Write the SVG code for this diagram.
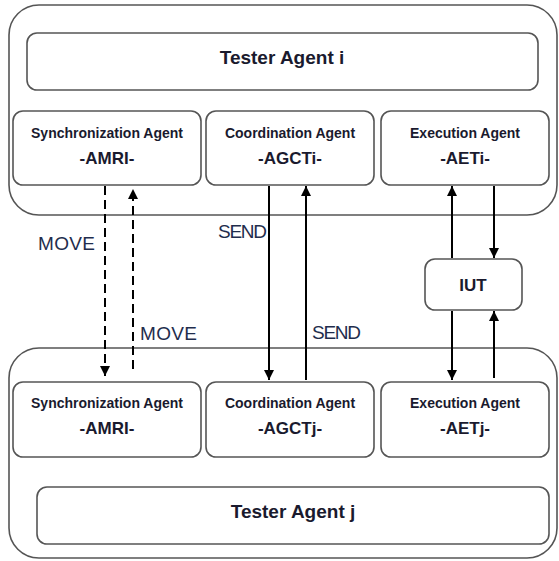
<svg xmlns="http://www.w3.org/2000/svg" width="559" height="561" viewBox="0 0 559 561">
<style>
.outer{fill:#fff;stroke:#555;stroke-width:1.6}
.box{fill:#fff;stroke:#555;stroke-width:1.6}
.t1{font-family:"Liberation Sans",Arial,sans-serif;font-weight:bold;font-size:14px;fill:#1a1a2e;text-anchor:middle}
.t2{font-family:"Liberation Sans",Arial,sans-serif;font-weight:bold;font-size:17px;fill:#1a1a2e;text-anchor:middle}
.title{font-family:"Liberation Sans",Arial,sans-serif;font-weight:bold;font-size:19px;fill:#1a1a2e;text-anchor:middle}
.lbl{font-family:"Liberation Sans",Arial,sans-serif;font-size:19px;fill:#1f2d4d}
.c{stroke:#000;stroke-width:2;fill:none}
.d{stroke-dasharray:9 5}
</style>
<defs>
<marker id="ah" viewBox="0 0 10 10" refX="10" refY="5" markerWidth="5" markerHeight="5" orient="auto" markerUnits="strokeWidth">
<path d="M0,0 L10,5 L0,10 z" fill="#000"/>
</marker>
</defs>
<g id="tester-i">
<rect class="outer" x="9" y="5" width="548" height="210" rx="30"/>
</g>
<g id="tester-j">
<rect class="outer" x="9" y="348" width="548" height="210" rx="30"/>
</g>
<g id="title-i">
<rect class="box" x="27" y="33" width="511" height="57" rx="10"/>
<text class="title" x="282" y="64">Tester Agent i</text>
</g>
<g id="sync-i">
<rect class="box" x="13" y="111" width="188" height="74" rx="10"/>
<text class="t1" x="107" y="138">Synchronization Agent</text>
<text class="t2" x="107" y="164">-AMRI-</text>
</g>
<g id="coord-i">
<rect class="box" x="206" y="111" width="168" height="74" rx="10"/>
<text class="t1" x="290" y="138">Coordination Agent</text>
<text class="t2" x="290" y="164">-AGCTi-</text>
</g>
<g id="exec-i">
<rect class="box" x="381" y="111" width="168" height="74" rx="10"/>
<text class="t1" x="465" y="138">Execution Agent</text>
<text class="t2" x="465" y="164">-AETi-</text>
</g>
<g id="iut">
<rect class="box" x="425" y="259" width="97" height="51" rx="10"/>
<text class="t2" x="473" y="291">IUT</text>
</g>
<g id="sync-j">
<rect class="box" x="13" y="382" width="188" height="75" rx="10"/>
<text class="t1" x="107" y="408">Synchronization Agent</text>
<text class="t2" x="107" y="434">-AMRI-</text>
</g>
<g id="coord-j">
<rect class="box" x="206" y="382" width="168" height="75" rx="10"/>
<text class="t1" x="290" y="408">Coordination Agent</text>
<text class="t2" x="290" y="434">-AGCTj-</text>
</g>
<g id="exec-j">
<rect class="box" x="381" y="382" width="168" height="75" rx="10"/>
<text class="t1" x="465" y="408">Execution Agent</text>
<text class="t2" x="465" y="434">-AETj-</text>
</g>
<g id="title-j">
<rect class="box" x="37" y="487" width="512" height="57" rx="10"/>
<text class="title" x="293" y="518">Tester Agent j</text>
</g>
<g id="connectors">
<line class="c d" x1="105" y1="186" x2="105" y2="376" marker-end="url(#ah)"/>
<line class="c d" x1="133" y1="369" x2="133" y2="189" marker-end="url(#ah)"/>
<line class="c" x1="269" y1="186" x2="269" y2="380" marker-end="url(#ah)"/>
<line class="c" x1="306" y1="380" x2="306" y2="186" marker-end="url(#ah)"/>
<line class="c" x1="452" y1="258" x2="452" y2="186" marker-end="url(#ah)"/>
<line class="c" x1="494" y1="186" x2="494" y2="258" marker-end="url(#ah)"/>
<line class="c" x1="452" y1="311" x2="452" y2="380" marker-end="url(#ah)"/>
<line class="c" x1="494" y1="378" x2="494" y2="311" marker-end="url(#ah)"/>
<text class="lbl" x="38" y="250" textLength="57">MOVE</text>
<text class="lbl" x="140" y="340" textLength="57">MOVE</text>
<text class="lbl" x="218" y="238" textLength="49">SEND</text>
<text class="lbl" x="312" y="339" textLength="49">SEND</text>
</g>
</svg>
